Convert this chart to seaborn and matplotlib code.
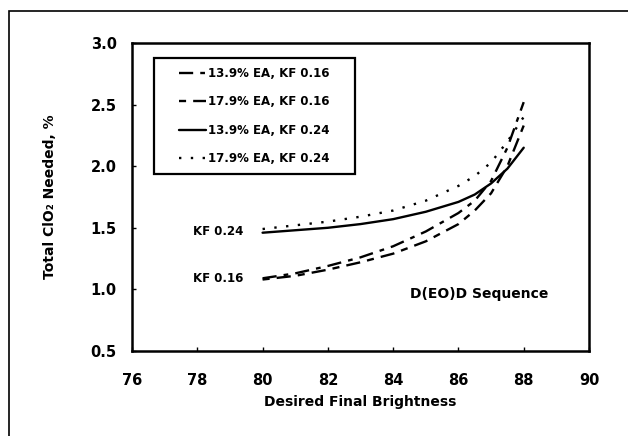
import numpy as np
import pandas as pd
import seaborn as sns
import matplotlib
matplotlib.use("Agg")
import matplotlib.pyplot as plt
from matplotlib.patches import Rectangle

# Desired final brightness (% ISO)
brightness = [80, 81, 82, 83, 84, 85, 86, 86.5, 87, 87.5, 88]

# Total ClO2 needed (%) for each effective-alkali / kappa-factor combination
ea139_kf016 = [1.09, 1.13, 1.19, 1.26, 1.35, 1.47, 1.62, 1.72, 1.88, 2.15, 2.52]
ea179_kf016 = [1.08, 1.11, 1.16, 1.22, 1.29, 1.39, 1.53, 1.64, 1.78, 2.00, 2.33]
ea139_kf024 = [1.46, 1.48, 1.50, 1.53, 1.57, 1.63, 1.71, 1.77, 1.86, 1.98, 2.15]
ea179_kf024 = [1.49, 1.52, 1.55, 1.59, 1.64, 1.72, 1.84, 1.92, 2.03, 2.20, 2.40]

series_names = ["13.9% EA, KF 0.16", "17.9% EA, KF 0.16",
                "13.9% EA, KF 0.24", "17.9% EA, KF 0.24"]
series_values = [ea139_kf016, ea179_kf016, ea139_kf024, ea179_kf024]

x_ticks = [76, 78, 80, 82, 84, 86, 88, 90]
y_ticks = [0.5, 1.0, 1.5, 2.0, 2.5, 3.0]

df = pd.DataFrame({
    "Brightness": np.tile(brightness, len(series_names)),
    "ClO2": np.concatenate(series_values),
    "Series": np.repeat(series_names, len(brightness)),
})

sns.set_theme(style="white")
plt.rcParams["font.family"] = ["DejaVu Sans"]
plt.rcParams["font.weight"] = "bold"
plt.rcParams["text.color"] = "black"
plt.rcParams["axes.labelcolor"] = "black"
plt.rcParams["xtick.color"] = "black"
plt.rcParams["ytick.color"] = "black"

fig = plt.figure(figsize=(6.28, 4.36), dpi=100)
ax = fig.add_axes([0.2102, 0.195, 0.7277, 0.7064])

dash_map = {
    series_names[0]: (6, 3, 2, 3),
    series_names[1]: (3, 3, 6, 3),
    series_names[2]: "",
    series_names[3]: (1, 4),
}
palette = {name: "black" for name in series_names}

sns.lineplot(data=df, x="Brightness", y="ClO2", hue="Series", style="Series",
             palette=palette, dashes=dash_map, linewidth=1.7, ax=ax,
             legend="full")

ax.set_xlim(76, 90)
ax.set_ylim(0.5, 3.0)
ax.set_xticks(x_ticks)
ax.set_yticks(y_ticks)
ax.set_xticklabels([str(v) for v in x_ticks], fontsize=10.5, fontweight="bold",
                   color="black")
ax.set_yticklabels([f"{v:.1f}" for v in y_ticks], fontsize=10.5,
                   fontweight="bold", color="black")
ax.tick_params(axis="both", direction="in", length=3, width=1, color="black",
               bottom=True, left=True)
ax.tick_params(axis="x", pad=16)
ax.tick_params(axis="y", pad=11)

for side in ["left", "right", "top", "bottom"]:
    ax.spines[side].set_visible(True)
    ax.spines[side].set_color("black")
    ax.spines[side].set_linewidth(1.8)

ax.set_xlabel("Desired Final Brightness", fontsize=10, fontweight="bold",
              labelpad=5, color="black")
ax.set_ylabel("Total ClO\u2082 Needed, %", fontsize=10, fontweight="bold",
              labelpad=24, color="black")

# Legend: entries centred inside a square-cornered box
handles, labels = ax.get_legend_handles_labels()
leg = ax.legend(handles, labels, loc="center",
                bbox_to_anchor=(0.268, 0.763), frameon=False,
                fontsize=8.5, handlelength=2.3, handletextpad=0.15,
                labelspacing=1.3, borderpad=0, borderaxespad=0)
for t in leg.get_texts():
    t.set_fontweight("bold")
    t.set_color("black")
ax.add_patch(Rectangle((0.048, 0.575), 0.44, 0.377, transform=ax.transAxes,
                       fill=False, edgecolor="black", linewidth=1.6,
                       zorder=5))

# Curve-group annotations
ax.text(79.4, 1.466, "KF 0.24", fontsize=8.5, fontweight="bold",
        ha="right", va="center", color="black")
ax.text(79.4, 1.09, "KF 0.16", fontsize=8.5, fontweight="bold",
        ha="right", va="center", color="black")
ax.text(88.75, 0.963, "D(EO)D Sequence", fontsize=10, fontweight="bold",
        ha="right", va="center", color="black")

# Outer frame around the figure
fig.add_artist(Rectangle((9 / 628, -0.1), 1.2, 1 - 11 / 436 + 0.1,
                         transform=fig.transFigure, fill=False,
                         edgecolor="black", linewidth=1.2, clip_on=False))

fig.savefig("out.png", dpi=100, facecolor="white")
